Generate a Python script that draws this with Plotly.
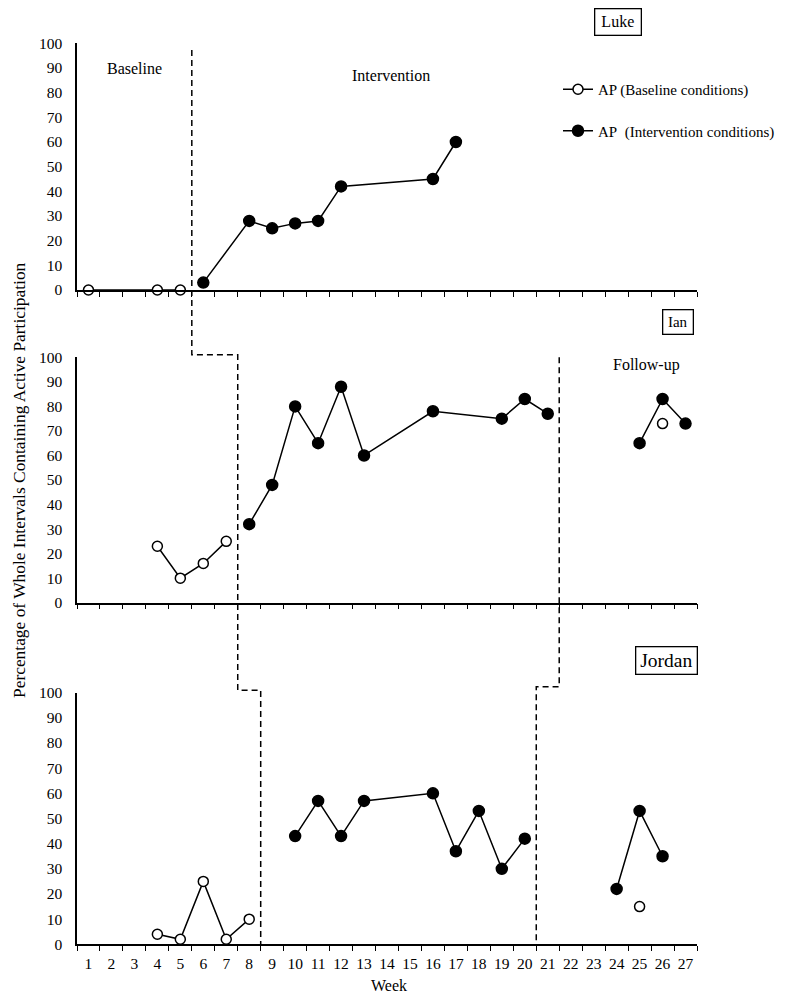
import plotly.graph_objects as go

# ── Data ─────────────────────────────────────────────────────────────────────
weeks = list(range(1, 28))
week_labels = [str(w) for w in weeks]

luke_base_wk = [1, 4, 5]
luke_base_ap = [0, 0, 0]
luke_int_wk = [6, 8, 9, 10, 11, 12, 16, 17]
luke_int_ap = [3, 28, 25, 27, 28, 42, 45, 60]

ian_base_wk = [4, 5, 6, 7]
ian_base_ap = [23, 10, 16, 25]
ian_int_wk = [8, 9, 10, 11, 12, 13, 16, 19, 20, 21]
ian_int_ap = [32, 48, 80, 65, 88, 60, 78, 75, 83, 77]
ian_fu_wk = [25, 26, 27]
ian_fu_ap = [65, 83, 73]
ian_fu_base_wk = [26]
ian_fu_base_ap = [73]

jordan_base_wk = [4, 5, 6, 7, 8]
jordan_base_ap = [4, 2, 25, 2, 10]
jordan_int_wk = [10, 11, 12, 13, 16, 17, 18, 19, 20]
jordan_int_ap = [43, 57, 43, 57, 60, 37, 53, 30, 42]
jordan_fu_wk = [24, 25, 26]
jordan_fu_ap = [22, 53, 35]
jordan_fu_base_wk = [25]
jordan_fu_base_ap = [15]

# phase-change boundaries (between weeks)
phase1 = {"Luke": 5.5, "Ian": 7.5, "Jordan": 8.5}
phase2 = {"Ian": 21.5, "Jordan": 20.5}

# page has an 8px body margin, so the figure is shrunk by that much
OFF = 8
W, H = 790 - OFF, 995 - OFF
FONT = "Liberation Serif, Times New Roman, serif"


def px(x):
    return (x - OFF) / W


def pyx(y):
    return 1 - (y - OFF) / H


# panel y-domains (paper fractions), from screen pixel positions
DOM = {
    "Luke": (pyx(290), pyx(43.3)),
    "Ian": (pyx(602.7), pyx(357.3)),
    "Jordan": (pyx(944.3), pyx(692.7)),
}
AX = {"Luke": "", "Ian": "2", "Jordan": "3"}
XDOM = [px(77), px(697)]


def py(panel, v):
    lo, hi = DOM[panel]
    return lo + v / 100 * (hi - lo)


fig = go.Figure()


def add_series(panel, wk, ap, filled, connect=True, name=None):
    n = AX[panel]
    fig.add_trace(go.Scatter(
        x=wk, y=ap,
        xaxis="x" + n, yaxis="y" + n,
        mode="lines+markers" if connect else "markers",
        line=dict(color="black", width=1.5),
        marker=dict(
            symbol="circle",
            size=11 if filled else 10,
            color="black" if filled else "white",
            line=dict(color="black", width=1.5),
        ),
        cliponaxis=False,
        name=name or "",
        showlegend=name is not None,
        legendgroup=name or panel,
    ))


add_series("Luke", luke_base_wk, luke_base_ap, False, name="AP (Baseline conditions)")
add_series("Luke", luke_int_wk, luke_int_ap, True, name="AP\u00a0 (Intervention conditions)")
add_series("Ian", ian_base_wk, ian_base_ap, False)
add_series("Ian", ian_int_wk, ian_int_ap, True)
add_series("Ian", ian_fu_wk, ian_fu_ap, True)
add_series("Ian", ian_fu_base_wk, ian_fu_base_ap, False, connect=False)
add_series("Jordan", jordan_base_wk, jordan_base_ap, False)
add_series("Jordan", jordan_int_wk, jordan_int_ap, True)
add_series("Jordan", jordan_fu_wk, jordan_fu_ap, True)
add_series("Jordan", jordan_fu_base_wk, jordan_fu_base_ap, False, connect=False)

# ── Axes ──────────────────────────────────────────────────────────────────────
layout_axes = {}
for panel, n in AX.items():
    bottom = panel == "Jordan"
    layout_axes["xaxis" + n] = dict(
        domain=XDOM, anchor="y" + n, range=[0.5, 27.5], automargin=False,
        showline=True, linecolor="black", linewidth=1.5,
        showgrid=False, zeroline=False,
        tickvals=weeks, ticktext=week_labels, ticks="",
        showticklabels=bottom, ticklabelstandoff=4,
        tickfont=dict(size=15.5, color="black", family=FONT),
        minor=dict(tickvals=[w - 0.5 for w in weeks] + [27.5], ticks="outside",
                   ticklen=5, tickwidth=1.2, tickcolor="black", showgrid=False),
    )
    layout_axes["yaxis" + n] = dict(
        domain=list(DOM[panel]), anchor="x" + n, range=[0, 100], automargin=False,
        showline=True, linecolor="black", linewidth=1.5,
        showgrid=False, zeroline=False,
        tickvals=list(range(0, 101, 10)), ticks="", ticklabelstandoff=10,
        tickfont=dict(size=15.5, color="black", family=FONT),
    )

# ── Phase-change lines ────────────────────────────────────────────────────────
dash = dict(color="black", width=1.5, dash="6px,4px")
p1 = (f"M {phase1['Luke']},{py('Luke', 97.3)} L {phase1['Luke']},{py('Ian', 101)} "
      f"L {phase1['Ian']},{py('Ian', 101)} L {phase1['Ian']},{py('Jordan', 101)} "
      f"L {phase1['Jordan']},{py('Jordan', 101)} L {phase1['Jordan']},{py('Jordan', 0)}")
p2 = (f"M {phase2['Ian']},{py('Ian', 100)} L {phase2['Ian']},{py('Jordan', 102.4)} "
      f"L {phase2['Jordan']},{py('Jordan', 102.4)} L {phase2['Jordan']},{py('Jordan', 0)}")
shapes = [
    dict(type="path", path=p, xref="x", yref="paper", line=dash, layer="above")
    for p in (p1, p2)
]


# ── Text ─────────────────────────────────────────────────────────────────────
def note(text, x, y, size=16, box=None, **kw):
    d = dict(text=text, x=px(x), y=pyx(y), xref="paper", yref="paper",
             showarrow=False, font=dict(size=size, color="black", family=FONT),
             xanchor="center", yanchor="middle")
    if box:
        d.update(bordercolor="black", borderwidth=1.3, borderpad=2, bgcolor="white",
                 width=box[0], height=box[1])
    d.update(kw)
    return d


annotations = [
    note("Baseline", 134, 69),
    note("Intervention", 391, 75),
    note("Follow-up", 646, 365),
    note("Luke", 618, 8, box=(41, 21), yanchor="top"),
    note("Ian", 677.5, 321.7, size=15, box=(25, 19)),
    note("Jordan", 666.3, 660.7, size=19.5, box=(56, 22)),
    note("Week", 389, 985),
    note("Percentage of Whole Intervals Containing Active Participation",
         19, 480, size=17.4, textangle=-90),
]

fig.update_layout(
    width=W, height=H,
    margin=dict(l=0, r=0, t=0, b=0),
    paper_bgcolor="white", plot_bgcolor="white",
    font=dict(family=FONT, color="black", size=16),
    shapes=shapes, annotations=annotations,
    legend=dict(x=px(558), y=pyx(73), xanchor="left", yanchor="top",
                bgcolor="rgba(0,0,0,0)", tracegroupgap=19,
                font=dict(size=15, family=FONT, color="black")),
    **layout_axes,
)

fig.write_html("out.html")
